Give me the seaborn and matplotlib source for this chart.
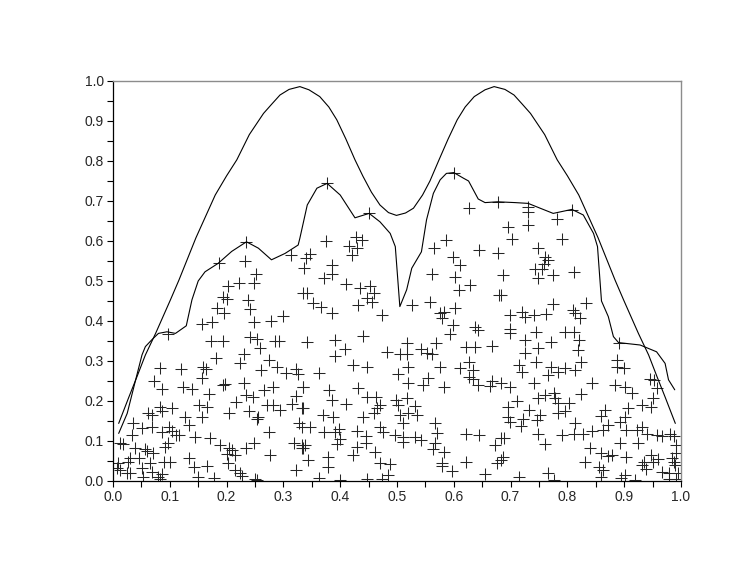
import matplotlib
matplotlib.use("Agg")
import matplotlib.pyplot as plt
from matplotlib.ticker import MultipleLocator, FormatStrFormatter
import pandas as pd
import seaborn as sns

# Smooth upper curve
curve_x = [0.010, 0.028, 0.042, 0.057, 0.075, 0.101, 0.116, 0.146, 0.180, 0.200,
           0.218, 0.240, 0.265, 0.280, 0.294, 0.310, 0.329, 0.345, 0.364, 0.380,
           0.394, 0.410, 0.426, 0.440, 0.455, 0.470, 0.485, 0.499, 0.515, 0.529,
           0.545, 0.558, 0.574, 0.590, 0.606, 0.620, 0.636, 0.655, 0.671, 0.690,
           0.706, 0.720, 0.735, 0.760, 0.782, 0.800, 0.820, 0.854, 0.884, 0.899,
           0.925, 0.943, 0.958, 0.972, 0.990]
curve_y = [0.144, 0.210, 0.260, 0.315, 0.369, 0.4525, 0.502, 0.608, 0.715, 0.763,
           0.803, 0.866, 0.919, 0.943, 0.965, 0.979, 0.986, 0.978, 0.961, 0.935,
           0.903, 0.855, 0.803, 0.762, 0.722, 0.690, 0.671, 0.664, 0.670, 0.682,
           0.715, 0.750, 0.803, 0.855, 0.903, 0.935, 0.961, 0.978, 0.986, 0.979,
           0.965, 0.943, 0.919, 0.866, 0.803, 0.763, 0.715, 0.608, 0.502, 0.4525,
           0.369, 0.315, 0.260, 0.210, 0.144]

# Jagged envelope curve
env_x = [0.010, 0.025, 0.039, 0.051, 0.057, 0.069, 0.080, 0.095, 0.110, 0.129,
         0.139, 0.150, 0.162, 0.185, 0.209, 0.235, 0.256, 0.279, 0.303, 0.326,
         0.329, 0.342, 0.359, 0.377, 0.400, 0.426, 0.451, 0.470, 0.488, 0.497,
         0.505, 0.517, 0.526, 0.543, 0.552, 0.564, 0.576, 0.587, 0.600, 0.617,
         0.626, 0.643, 0.655, 0.677, 0.708, 0.731, 0.752, 0.775, 0.808, 0.828,
         0.846, 0.853, 0.860, 0.872, 0.881, 0.890, 0.928, 0.957, 0.972, 0.978,
         0.989]
env_y = [0.119, 0.169, 0.248, 0.315, 0.336, 0.354, 0.369, 0.373, 0.369, 0.388,
         0.453, 0.500, 0.523, 0.544, 0.574, 0.598, 0.582, 0.553, 0.569, 0.590,
         0.607, 0.690, 0.732, 0.744, 0.715, 0.658, 0.669, 0.648, 0.619, 0.586,
         0.436, 0.478, 0.532, 0.573, 0.653, 0.719, 0.753, 0.769, 0.771, 0.757,
         0.750, 0.705, 0.696, 0.698, 0.696, 0.694, 0.682, 0.669, 0.679, 0.665,
         0.619, 0.586, 0.450, 0.411, 0.361, 0.346, 0.340, 0.323, 0.294, 0.253,
         0.228]

# Scattered points, grouped by region of the plot
pts_top = [
    (0.187, 0.544), (0.235, 0.598), (0.232, 0.549), (0.251, 0.517), (0.313, 0.564),
    (0.377, 0.744), (0.451, 0.669), (0.600, 0.770), (0.626, 0.683), (0.677, 0.698),
    (0.375, 0.601), (0.428, 0.611), (0.438, 0.602), (0.416, 0.588), (0.430, 0.583),
    (0.420, 0.565), (0.346, 0.568), (0.340, 0.558), (0.336, 0.532), (0.386, 0.540),
    (0.386, 0.517), (0.372, 0.507), (0.587, 0.603), (0.565, 0.583), (0.599, 0.561),
    (0.611, 0.540), (0.561, 0.517), (0.602, 0.511), (0.645, 0.578), (0.677, 0.569),
    (0.731, 0.685), (0.731, 0.672), (0.731, 0.640), (0.696, 0.636), (0.703, 0.604),
    (0.808, 0.678), (0.781, 0.655), (0.790, 0.605), (0.748, 0.582), (0.761, 0.561),
    (0.766, 0.552), (0.758, 0.542), (0.743, 0.531), (0.755, 0.531), (0.775, 0.515),
    (0.749, 0.508), (0.812, 0.523), (0.687, 0.515),
]

pts_left = [
    (0.203, 0.488), (0.222, 0.494), (0.248, 0.494), (0.193, 0.461), (0.200, 0.455),
    (0.237, 0.453), (0.242, 0.429), (0.183, 0.432), (0.195, 0.419), (0.248, 0.398),
    (0.157, 0.393), (0.174, 0.397), (0.278, 0.401), (0.299, 0.413), (0.096, 0.368),
    (0.242, 0.359), (0.253, 0.354), (0.173, 0.350), (0.194, 0.350), (0.285, 0.350),
    (0.293, 0.350), (0.259, 0.332), (0.230, 0.318), (0.181, 0.307), (0.275, 0.303),
    (0.224, 0.294), (0.083, 0.282), (0.119, 0.279), (0.158, 0.286), (0.164, 0.279),
    (0.261, 0.278), (0.288, 0.284), (0.305, 0.269), (0.323, 0.279), (0.325, 0.267),
    (0.157, 0.257), (0.073, 0.250), (0.087, 0.229), (0.124, 0.236), (0.139, 0.229),
    (0.194, 0.240), (0.198, 0.243), (0.231, 0.244), (0.281, 0.236), (0.335, 0.234),
    (0.266, 0.228), (0.169, 0.218), (0.235, 0.215), (0.246, 0.209), (0.217, 0.198),
    (0.322, 0.213), (0.315, 0.193), (0.332, 0.182), (0.152, 0.190), (0.165, 0.186),
    (0.083, 0.186), (0.087, 0.176), (0.103, 0.183), (0.061, 0.171), (0.068, 0.165),
    (0.204, 0.171), (0.240, 0.176), (0.272, 0.190), (0.282, 0.190), (0.294, 0.178),
    (0.256, 0.161), (0.253, 0.154), (0.127, 0.161), (0.157, 0.161), (0.133, 0.140),
    (0.036, 0.144), (0.051, 0.132), (0.068, 0.136), (0.086, 0.123), (0.099, 0.136),
    (0.103, 0.126), (0.111, 0.115), (0.116, 0.115), (0.033, 0.115), (0.144, 0.111),
    (0.171, 0.107), (0.275, 0.123), (0.328, 0.144), (0.332, 0.136), (0.319, 0.096),
    (0.333, 0.082), (0.249, 0.094), (0.235, 0.083), (0.188, 0.090), (0.204, 0.083),
    (0.209, 0.078), (0.096, 0.094), (0.092, 0.086), (0.056, 0.079), (0.059, 0.075),
    (0.038, 0.082), (0.012, 0.094), (0.018, 0.092), (0.030, 0.058), (0.045, 0.057),
    (0.027, 0.048), (0.071, 0.069), (0.065, 0.046), (0.051, 0.033), (0.089, 0.048),
    (0.100, 0.048), (0.133, 0.057), (0.143, 0.036), (0.165, 0.038), (0.200, 0.067),
    (0.202, 0.046), (0.215, 0.065), (0.215, 0.028), (0.224, 0.021), (0.227, 0.013),
    (0.276, 0.065), (0.009, 0.046), (0.007, 0.032), (0.012, 0.028), (0.024, 0.019),
    (0.030, 0.019), (0.068, 0.023), (0.053, 0.009), (0.080, 0.011), (0.087, 0.017),
    (0.083, 0.005), (0.149, 0.011), (0.178, 0.007), (0.250, 0.005), (0.253, 0.003),
    (0.322, 0.028), (0.332, 0.090), (0.335, 0.469),
]

pts_mid = [
    (0.410, 0.493), (0.434, 0.482), (0.453, 0.488), (0.460, 0.469), (0.447, 0.457),
    (0.456, 0.448), (0.432, 0.440), (0.342, 0.471), (0.352, 0.446), (0.367, 0.434),
    (0.385, 0.419), (0.473, 0.415), (0.526, 0.440), (0.558, 0.448), (0.610, 0.478),
    (0.629, 0.490), (0.680, 0.465), (0.582, 0.423), (0.575, 0.419), (0.579, 0.407),
    (0.602, 0.432), (0.599, 0.390), (0.593, 0.367), (0.637, 0.384), (0.643, 0.378),
    (0.341, 0.348), (0.390, 0.353), (0.409, 0.329), (0.391, 0.313), (0.441, 0.363),
    (0.423, 0.290), (0.448, 0.284), (0.362, 0.269), (0.483, 0.323), (0.505, 0.318),
    (0.518, 0.344), (0.518, 0.318), (0.543, 0.329), (0.552, 0.321), (0.561, 0.318),
    (0.569, 0.344), (0.520, 0.286), (0.502, 0.267), (0.576, 0.284), (0.622, 0.334),
    (0.637, 0.334), (0.667, 0.338), (0.626, 0.298), (0.611, 0.282), (0.634, 0.278),
    (0.626, 0.261), (0.634, 0.254), (0.643, 0.240), (0.663, 0.238), (0.668, 0.251),
    (0.555, 0.257), (0.545, 0.240), (0.520, 0.244), (0.583, 0.234), (0.334, 0.234),
    (0.381, 0.228), (0.432, 0.232), (0.447, 0.209), (0.463, 0.211), (0.385, 0.203),
    (0.411, 0.193), (0.498, 0.203), (0.517, 0.207), (0.502, 0.190), (0.532, 0.188),
    (0.470, 0.190), (0.464, 0.182), (0.459, 0.169), (0.441, 0.161), (0.505, 0.165),
    (0.520, 0.169), (0.536, 0.165), (0.369, 0.165), (0.388, 0.161), (0.334, 0.182),
    (0.511, 0.144), (0.347, 0.136), (0.372, 0.123), (0.398, 0.129), (0.390, 0.123),
    (0.400, 0.104), (0.395, 0.092), (0.429, 0.126), (0.446, 0.113), (0.470, 0.136),
    (0.476, 0.123), (0.496, 0.115), (0.511, 0.111), (0.511, 0.098), (0.532, 0.111),
    (0.542, 0.103), (0.567, 0.144), (0.570, 0.119), (0.567, 0.094), (0.564, 0.079),
    (0.582, 0.073), (0.622, 0.118), (0.645, 0.115), (0.673, 0.090), (0.676, 0.046),
    (0.621, 0.048), (0.579, 0.044), (0.580, 0.038), (0.596, 0.026), (0.655, 0.017),
    (0.338, 0.090), (0.334, 0.082), (0.344, 0.053), (0.379, 0.061), (0.379, 0.034),
    (0.423, 0.065), (0.429, 0.086), (0.446, 0.094), (0.461, 0.073), (0.470, 0.044),
    (0.487, 0.042), (0.485, 0.015), (0.473, 0.004), (0.447, 0.004), (0.400, 0.003),
    (0.363, 0.007),
]

pts_right = [
    (0.683, 0.465), (0.774, 0.443), (0.832, 0.446), (0.810, 0.428), (0.813, 0.421),
    (0.822, 0.407), (0.699, 0.415), (0.720, 0.423), (0.725, 0.411), (0.742, 0.415),
    (0.762, 0.418), (0.699, 0.379), (0.699, 0.369), (0.725, 0.353), (0.744, 0.373),
    (0.771, 0.348), (0.749, 0.332), (0.725, 0.321), (0.795, 0.373), (0.812, 0.373),
    (0.820, 0.353), (0.819, 0.328), (0.890, 0.344), (0.888, 0.303), (0.900, 0.282),
    (0.887, 0.286), (0.745, 0.298), (0.714, 0.290), (0.720, 0.273), (0.766, 0.265),
    (0.772, 0.284), (0.784, 0.273), (0.796, 0.282), (0.813, 0.278), (0.824, 0.298),
    (0.683, 0.244), (0.699, 0.234), (0.742, 0.244), (0.844, 0.244), (0.884, 0.240),
    (0.901, 0.236), (0.913, 0.221), (0.945, 0.254), (0.953, 0.252), (0.957, 0.232),
    (0.951, 0.207), (0.948, 0.186), (0.931, 0.190), (0.907, 0.182), (0.866, 0.178),
    (0.859, 0.163), (0.696, 0.186), (0.711, 0.201), (0.733, 0.178), (0.761, 0.215),
    (0.749, 0.207), (0.776, 0.219), (0.779, 0.207), (0.783, 0.196), (0.803, 0.196),
    (0.824, 0.218), (0.796, 0.176), (0.784, 0.171), (0.752, 0.165), (0.746, 0.153),
    (0.696, 0.161), (0.699, 0.148), (0.721, 0.154), (0.718, 0.138), (0.813, 0.144),
    (0.811, 0.118), (0.828, 0.118), (0.843, 0.126), (0.872, 0.140), (0.863, 0.128),
    (0.893, 0.148), (0.901, 0.161), (0.904, 0.128), (0.922, 0.128), (0.931, 0.136),
    (0.925, 0.094), (0.940, 0.118), (0.957, 0.115), (0.966, 0.113), (0.981, 0.118),
    (0.987, 0.113), (0.992, 0.090), (0.683, 0.107), (0.689, 0.107), (0.749, 0.118),
    (0.761, 0.093), (0.790, 0.115), (0.840, 0.082), (0.893, 0.094), (0.860, 0.069),
    (0.872, 0.063), (0.878, 0.065), (0.904, 0.059), (0.831, 0.048), (0.855, 0.036),
    (0.863, 0.028), (0.860, 0.011), (0.901, 0.015), (0.894, 0.007), (0.919, 0.003),
    (0.934, 0.048), (0.931, 0.040), (0.938, 0.029), (0.948, 0.065), (0.960, 0.054),
    (0.951, 0.048), (0.966, 0.023), (0.978, 0.019), (0.984, 0.057), (0.987, 0.048),
    (0.989, 0.040), (0.992, 0.069), (0.995, 0.019), (0.978, 0.004), (0.992, 0.004),
    (0.683, 0.053), (0.687, 0.059), (0.714, 0.011), (0.766, 0.021), (0.777, 0.003),
]


def main() -> None:
    sns.set_style("ticks")
    plt.rcParams["font.family"] = ["Liberation Sans", "DejaVu Sans"]

    fig = plt.figure(figsize=(7.47, 5.78), dpi=100)
    ax = fig.add_axes([113 / 747, 97 / 578, 568 / 747, 400 / 578])

    pts = pd.DataFrame(pts_top + pts_left + pts_mid + pts_right, columns=["x", "y"])
    sns.scatterplot(data=pts, x="x", y="y", marker="+", s=64, color="#262626",
                    linewidth=0.75, ax=ax)

    curve = pd.DataFrame({"x": curve_x, "y": curve_y})
    env = pd.DataFrame({"x": env_x, "y": env_y})
    sns.lineplot(data=curve, x="x", y="y", sort=False, estimator=None,
                 color="black", linewidth=0.8, ax=ax)
    sns.lineplot(data=env, x="x", y="y", sort=False, estimator=None,
                 color="black", linewidth=0.8, ax=ax)

    ax.set_xlim(0, 1)
    ax.set_ylim(0, 1)
    ax.set_xlabel("")
    ax.set_ylabel("")
    ax.xaxis.set_major_locator(MultipleLocator(0.1))
    ax.yaxis.set_major_locator(MultipleLocator(0.1))
    ax.xaxis.set_minor_locator(MultipleLocator(0.05))
    ax.yaxis.set_minor_locator(MultipleLocator(0.05))
    ax.xaxis.set_major_formatter(FormatStrFormatter("%.1f"))
    ax.yaxis.set_major_formatter(FormatStrFormatter("%.1f"))
    ax.tick_params(which="both", direction="out", length=4.5, width=0.8,
                   color="black", labelsize=10, pad=2)
    for side in ("left", "bottom"):
        ax.spines[side].set_color("black")
        ax.spines[side].set_linewidth(0.9)
    for side in ("top", "right"):
        ax.spines[side].set_visible(True)
        ax.spines[side].set_color("#8c8c8c")
        ax.spines[side].set_linewidth(1.0)

    fig.savefig("out.png", dpi=100)


if __name__ == "__main__":
    main()
